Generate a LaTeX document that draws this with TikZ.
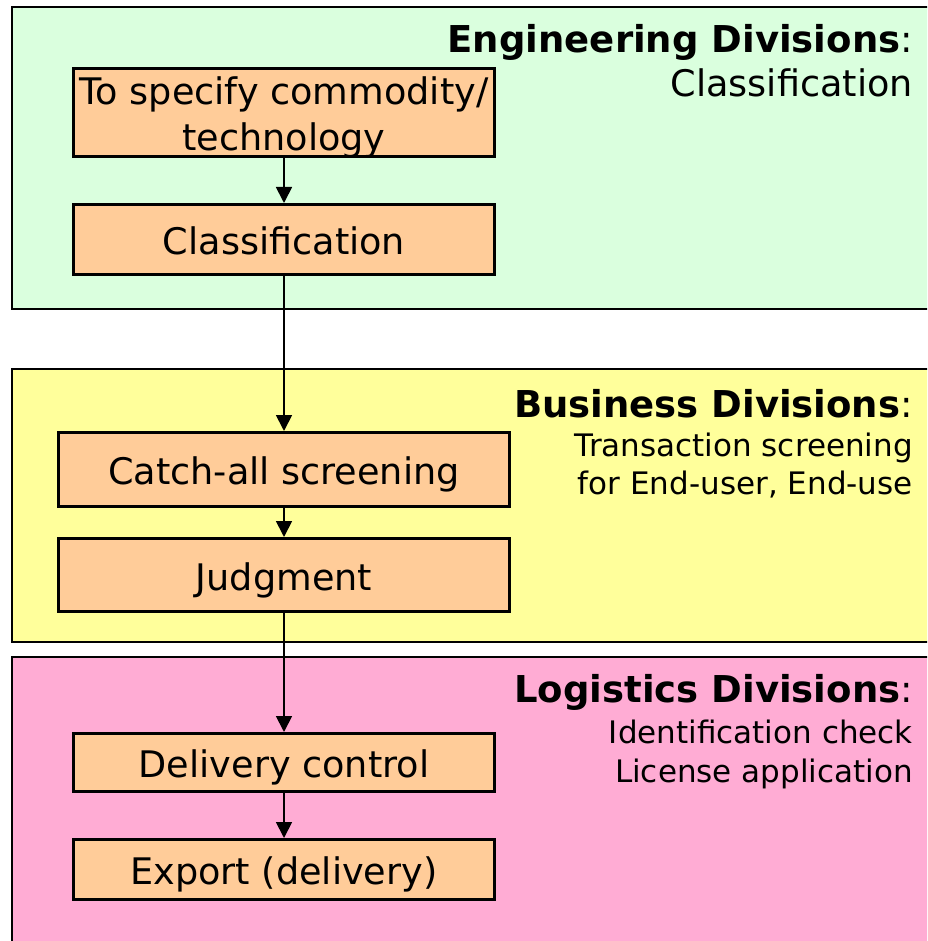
\documentclass[tikz,border=0pt]{standalone}
\usepackage{fontspec}
\setmainfont{DejaVu Sans}
\usetikzlibrary{arrows.meta}
\definecolor{enggreen}{RGB}{218,255,222}
\definecolor{busyellow}{RGB}{255,255,155}
\definecolor{logpink}{RGB}{255,172,212}
\definecolor{boxorange}{RGB}{255,204,153}
\begin{document}
\begin{tikzpicture}[x=1pt, y=-1pt,
  box/.style={draw, line width=3pt, fill=boxorange, inner sep=0pt, minimum width=421pt, text height=30pt, text depth=0pt, font=\fontsize{36.6}{46}\selectfont},
  head/.style={anchor=base east, inner sep=0pt, font=\fontsize{37}{44}\selectfont},
  sub/.style={anchor=base east, inner sep=0pt, align=right, font=\fontsize{31}{37.5}\selectfont}]
\useasboundingbox (0,0) rectangle (927,941);
\clip (0,0) rectangle (927,941);
\path[draw, line width=2pt, fill=enggreen] (12,7) rectangle (960,309);
\path[draw, line width=2pt, fill=busyellow] (12,369) rectangle (960,642);
\path[draw, line width=2pt, fill=logpink] (12,657) rectangle (960,990);
\node[box, align=center, text height=77pt, minimum height=88pt] (1) at (284,112.5) {To specify commodity/\\technology};
\node[box, minimum height=70pt] (2) at (284,239.5) {Classification};
\node[box, minimum width=451pt, minimum height=74pt] (3) at (284,469.5) {Catch-all screening};
\node[box, minimum width=451pt, minimum height=73pt] (4) at (284,575) {Judgment};
\node[box, minimum height=58pt] (5) at (284,762.5) {Delivery control};
\node[box, minimum height=60pt] (6) at (284,869.5) {Export (delivery)};
\path[draw, line width=1.8pt, -{Triangle[width=16pt,length=16pt]}] (1) -- (2);
\path[draw, line width=1.8pt, -{Triangle[width=16pt,length=16pt]}] (2) -- (3);
\path[draw, line width=1.8pt, -{Triangle[width=16pt,length=16pt]}] (3) -- (4);
\path[draw, line width=1.8pt, -{Triangle[width=16pt,length=16pt]}] (4) -- (5);
\path[draw, line width=1.8pt, -{Triangle[width=16pt,length=16pt]}] (5) -- (6);
\node[head] (t1) at (913,53) {\textbf{Engineering Divisions}:};
\node[sub, font=\fontsize{36.6}{44}\selectfont] (s1) at (913,97) {Classification};
\node[head] (t2) at (913,417) {\textbf{Business Divisions}:};
\node[sub] (s2) at (913,494) {Transaction screening\\for End-user, End-use};
\node[head] (t3) at (913,702) {\textbf{Logistics Divisions}:};
\node[sub, font=\fontsize{31}{39}\selectfont] (s3) at (913,782) {Identification check\\License application};
\end{tikzpicture}
\end{document}
